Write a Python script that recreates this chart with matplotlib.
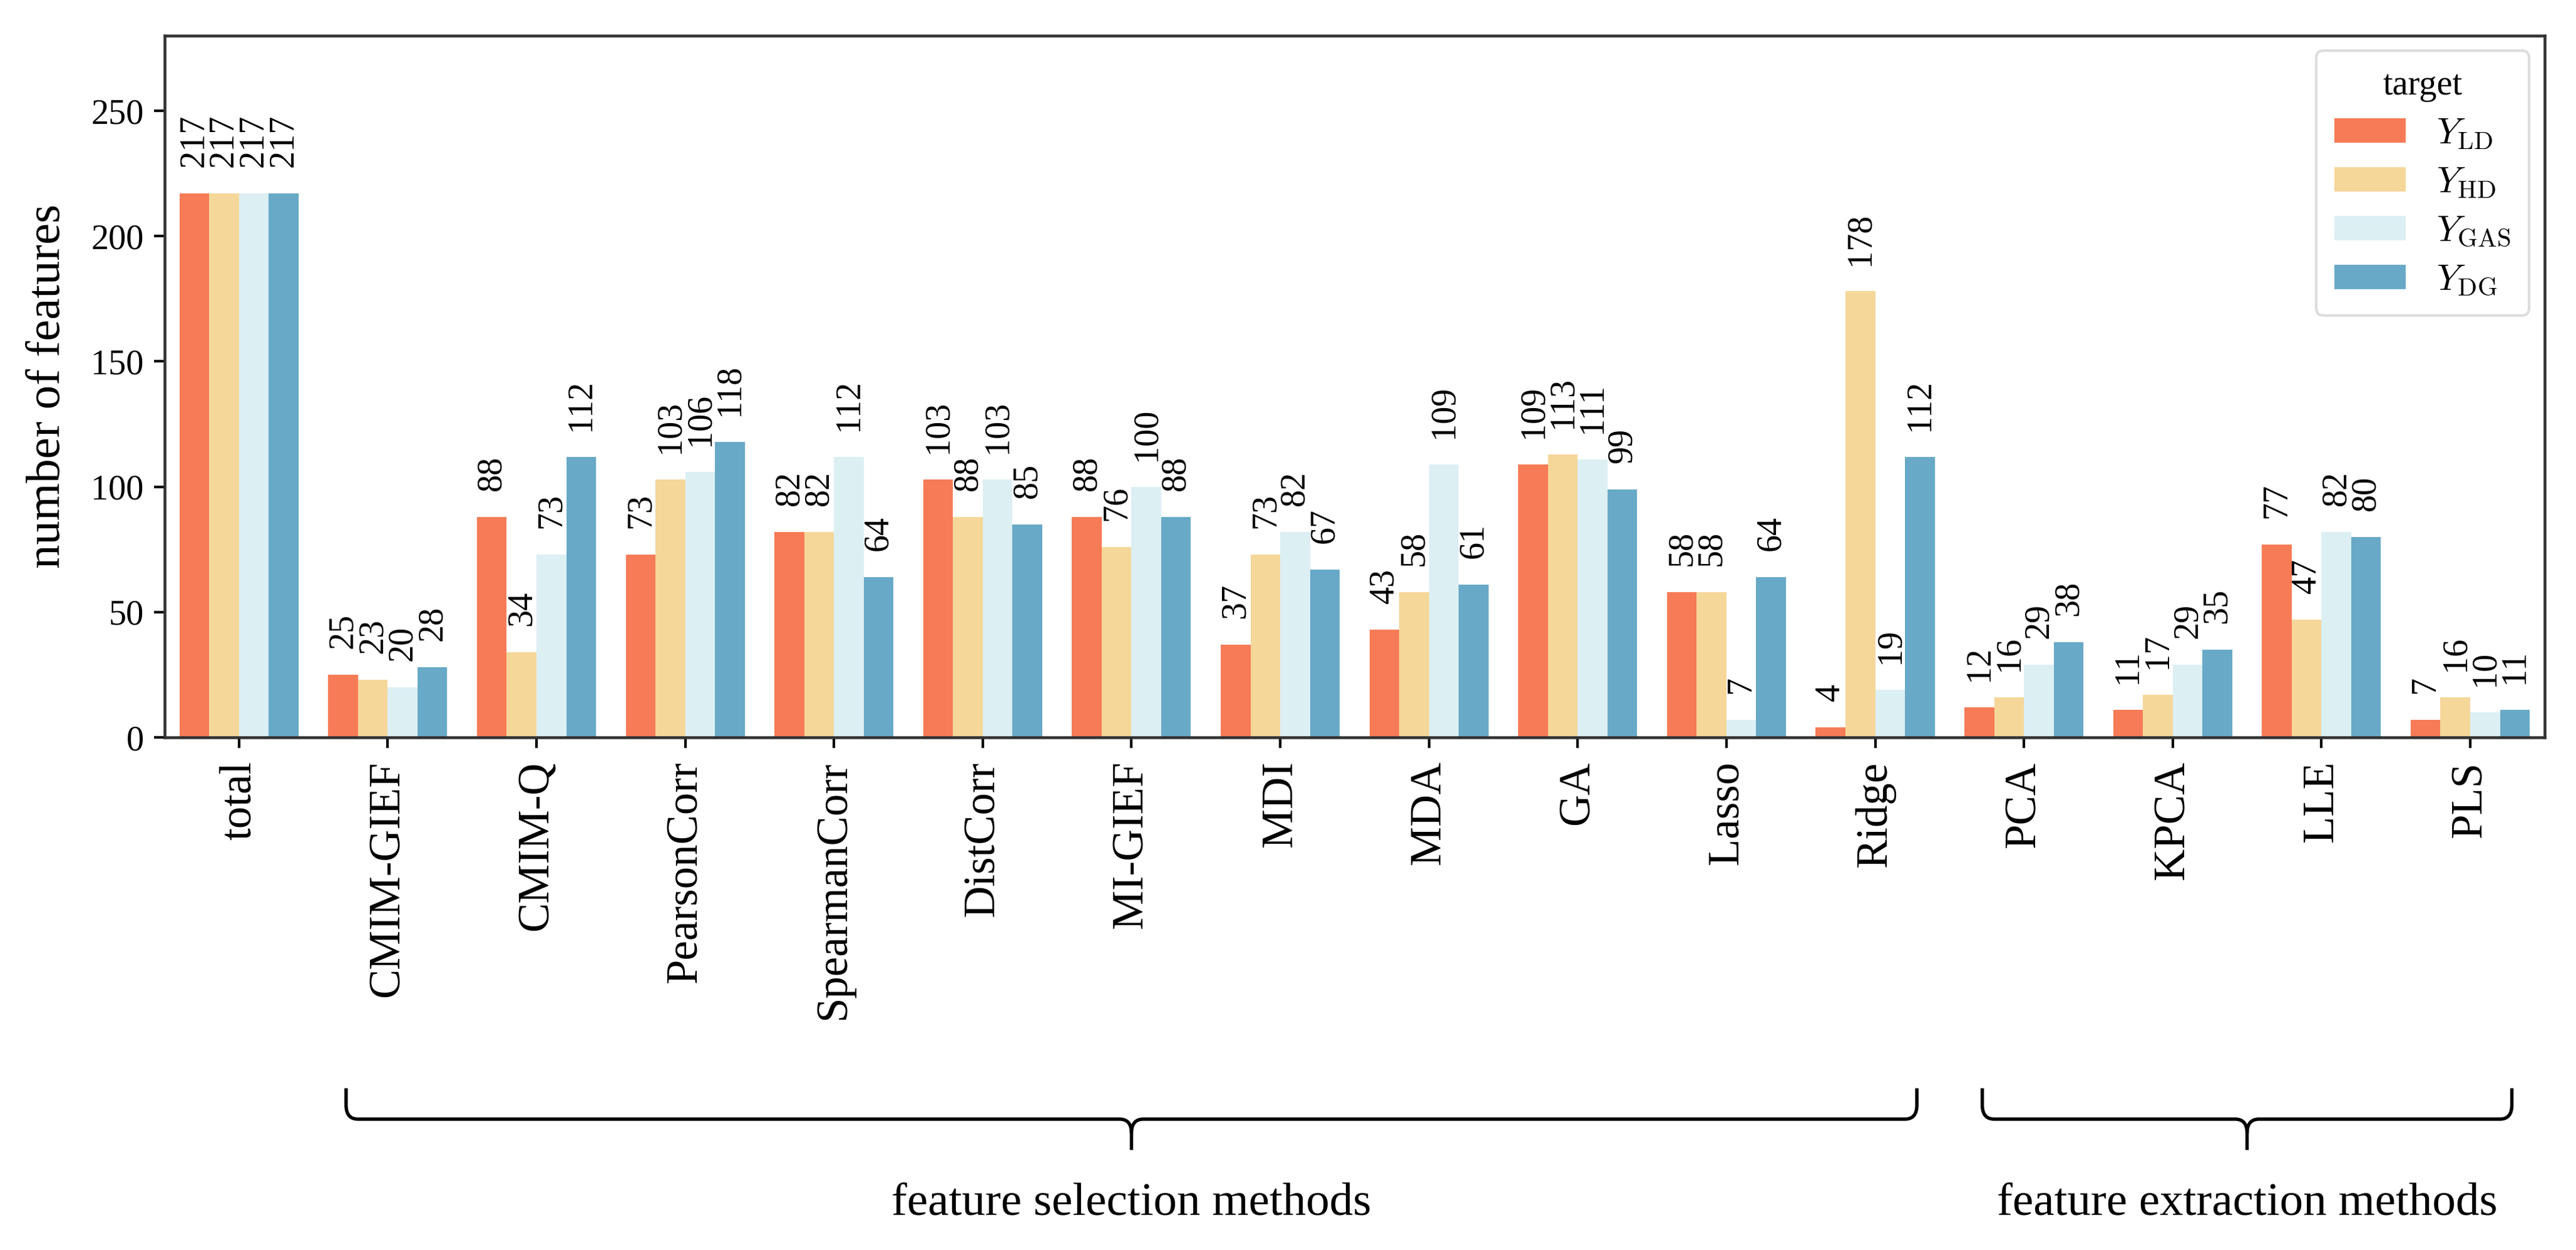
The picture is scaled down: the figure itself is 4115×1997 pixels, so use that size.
import matplotlib
matplotlib.use('Agg')
import matplotlib.pyplot as plt
import matplotlib.transforms as mtransforms
from matplotlib.path import Path
from matplotlib.patches import PathPatch
import numpy as np

plt.rcParams['font.family'] = ['Liberation Serif', 'DejaVu Serif']
plt.rcParams['mathtext.fontset'] = 'cm'

methods = ['total', 'CMIM-GIEF', 'CMIM-Q', 'PearsonCorr', 'SpearmanCorr', 'DistCorr',
           'MI-GIEF', 'MDI', 'MDA', 'GA', 'Lasso', 'Ridge', 'PCA', 'KPCA', 'LLE', 'PLS']
y_ld = [217, 25, 88, 73, 82, 103, 88, 37, 43, 109, 58, 4, 12, 11, 77, 7]
y_hd = [217, 23, 34, 103, 82, 88, 76, 73, 58, 113, 58, 178, 16, 17, 47, 16]
y_gas = [217, 20, 73, 106, 112, 103, 100, 82, 109, 111, 7, 19, 29, 29, 82, 10]
y_dg = [217, 28, 112, 118, 64, 85, 88, 67, 61, 99, 64, 112, 38, 35, 80, 11]
targets = [r'$Y_{\mathrm{LD}}$', r'$Y_{\mathrm{HD}}$', r'$Y_{\mathrm{GAS}}$', r'$Y_{\mathrm{DG}}$']
colors = ['#F67B56', '#F5D79A', '#DCEFF3', '#68A9C7']

# method groups shown with braces under the axis
groups = [('feature selection methods', 'CMIM-GIEF', 'Ridge'),
          ('feature extraction methods', 'PCA', 'PLS')]

fig = plt.figure(figsize=(4115 / 300, 1997 / 300), dpi=300)
ax = fig.add_axes([0.0639, 0.4101, 0.9239, 0.5614])

x = np.arange(len(methods))
w = 0.2
series = [y_ld, y_hd, y_gas, y_dg]
for i, vals in enumerate(series):
    bars = ax.bar(x + (i - 1.5) * w, vals, w, color=colors[i], label=targets[i], linewidth=0)
    ax.bar_label(bars, rotation=90, padding=10, fontsize=13.5)

ax.set_xlim(-0.5, len(methods) - 0.5)
ax.set_ylim(0, 280)
ax.set_yticks([0, 50, 100, 150, 200, 250])
ax.set_xticks(x)
ax.set_xticklabels(methods, rotation=90, fontsize=17)
ax.tick_params(axis='y', labelsize=13.5, length=4, width=1, pad=4)
ax.tick_params(axis='x', length=4, width=1, pad=5)
ax.set_ylabel('number of features', fontsize=18.5)
ax.yaxis.set_label_coords(-0.040, 0.5)
for s in ax.spines.values():
    s.set_linewidth(1.1)
    s.set_color('#333333')

leg = ax.legend(title='target', fontsize=14, title_fontsize=13.5, loc='upper right',
                fancybox=True, framealpha=1, edgecolor='#dddddd',
                handlelength=1.95, handleheight=0.65, handletextpad=0.85,
                labelspacing=0.42, borderpad=0.5, borderaxespad=0.42)

# braces
trans = mtransforms.blended_transform_factory(ax.transData, ax.transAxes)
yt, yh, yb = -0.50, -0.544, -0.588
r, ry = 0.08, 0.02
for label, first, last in groups:
    x0 = methods.index(first) - 0.28
    x1 = methods.index(last) + 0.28
    xm = (methods.index(first) + methods.index(last)) / 2
    verts = [(x0, yt), (x0, yh + ry), (x0, yh), (x0 + r, yh), (xm - r, yh), (xm, yh), (xm, yh - ry), (xm, yb),
             (x1, yt), (x1, yh + ry), (x1, yh), (x1 - r, yh), (xm + r, yh), (xm, yh), (xm, yh - ry)]
    codes = [Path.MOVETO, Path.LINETO, Path.CURVE3, Path.CURVE3, Path.LINETO, Path.CURVE3, Path.CURVE3, Path.LINETO,
             Path.MOVETO, Path.LINETO, Path.CURVE3, Path.CURVE3, Path.LINETO, Path.CURVE3, Path.CURVE3]
    ax.add_patch(PathPatch(Path(verts, codes), transform=trans, clip_on=False,
                           facecolor='none', edgecolor='black', linewidth=1.3))
    ax.text(xm, -0.664, label, transform=trans, ha='center', va='center', fontsize=18)

fig.savefig('out.png', dpi=300)
